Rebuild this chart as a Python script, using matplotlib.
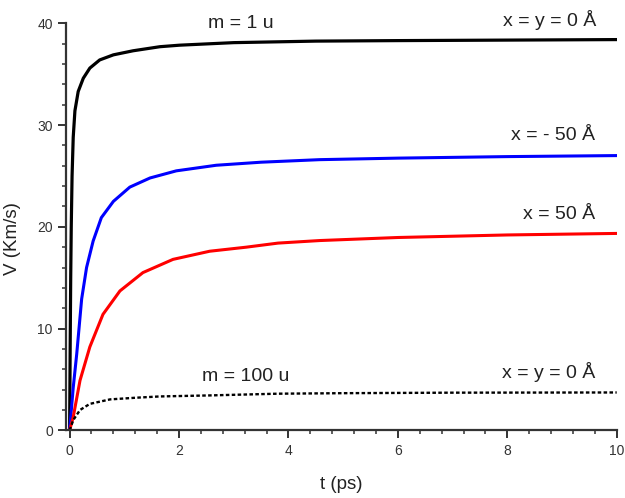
import matplotlib
matplotlib.use("Agg")
import matplotlib.pyplot as plt
from matplotlib.ticker import MultipleLocator

plt.rcParams['font.family'] = ['Liberation Sans', 'DejaVu Sans']

# Time (ps) and velocity (Km/s)
t_black = [0, 0.01, 0.02, 0.03, 0.045, 0.066, 0.097, 0.157, 0.25, 0.37, 0.55, 0.80, 1.16, 1.65, 2.01, 3.0, 4.5, 6, 8, 10]
v_black = [0, 8, 15, 20, 25, 28.8, 31.4, 33.3, 34.6, 35.6, 36.4, 36.9, 37.3, 37.7, 37.85, 38.1, 38.25, 38.3, 38.35, 38.4]

t_blue = [0, 0.066, 0.13, 0.22, 0.31, 0.43, 0.58, 0.80, 1.10, 1.47, 1.95, 2.68, 3.5, 4.57, 6, 8, 10]
v_blue = [0, 4.2, 7.5, 12.9, 16.0, 18.6, 20.9, 22.5, 23.9, 24.8, 25.5, 26.05, 26.35, 26.6, 26.75, 26.9, 27.0]

t_red = [0, 0.066, 0.19, 0.37, 0.61, 0.92, 1.34, 1.89, 2.56, 3.23, 3.81, 4.57, 6, 8, 10]
v_red = [0, 1.3, 4.9, 8.2, 11.4, 13.7, 15.5, 16.8, 17.6, 18.0, 18.4, 18.65, 18.95, 19.2, 19.35]

t_m100 = [0, 0.066, 0.19, 0.37, 0.74, 1.2, 1.65, 2.56, 3.81, 5, 7, 10]
v_m100 = [0, 1.0, 2.0, 2.6, 3.04, 3.2, 3.33, 3.43, 3.6, 3.65, 3.7, 3.72]

labels = ["m = 1 u", "x = y = 0 Å", "x = - 50 Å", "x = 50 Å", "m = 100 u", "x = y = 0 Å"]

fig = plt.figure(figsize=(6.25, 4.98), dpi=100)
ax = fig.add_axes([0.1056, 0.1359, 0.8811, 0.8173])

ax.plot(t_black, v_black, color='black', lw=2.3, solid_joinstyle='round')
ax.plot(t_blue, v_blue, color='#0000ff', lw=2.2, solid_joinstyle='round')
ax.plot(t_red, v_red, color='#ff0000', lw=2.2, solid_joinstyle='round')
ax.plot(t_m100, v_m100, color='black', lw=1.7, linestyle=(0, (1.5, 1.0)))

ax.set_xlim(-0.066, 10)
ax.set_ylim(0, 40)
ax.xaxis.set_major_locator(MultipleLocator(2))
ax.xaxis.set_minor_locator(MultipleLocator(0.4))
ax.yaxis.set_major_locator(MultipleLocator(10))
ax.yaxis.set_minor_locator(MultipleLocator(2))
ax.spines['top'].set_visible(False)
ax.spines['right'].set_visible(False)
for s in ('left', 'bottom'):
    ax.spines[s].set_linewidth(1.6)
    ax.spines[s].set_color('#333333')
ax.tick_params(which='major', direction='out', length=6, width=1.4, pad=3.5,
               labelsize=10, colors='#333333')
ax.tick_params(which='minor', direction='out', length=3, width=1.1, colors='#333333')

ax.set_xlabel('t (ps)', fontsize=13.5, color='#222222')
ax.set_ylabel('V (Km/s)', fontsize=13.5, color='#222222')
ax.xaxis.label.set_va('center')
ax.xaxis.set_label_coords(0.5, -0.134)
ax.yaxis.label.set_va('center')
ax.yaxis.label.set_ha('center')
ax.yaxis.set_label_coords(-0.097, 0.47)

pos = [(3.13, 39.5), (9.63, 39.7), (9.6, 28.5), (9.6, 20.8), (3.22, 4.85), (9.6, 5.1)]
has = ['center', 'right', 'right', 'right', 'center', 'right']
for lab, (x, y), ha in zip(labels, pos, has):
    ax.text(x, y, lab, fontsize=14, ha=ha, va='baseline', color='#222222')

fig.savefig('out.png', dpi=100)
